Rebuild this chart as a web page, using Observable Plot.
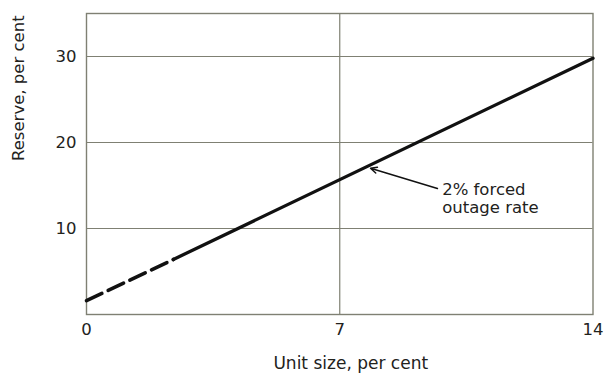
<!DOCTYPE html>
<html>
<head>
<meta charset="utf-8">
<script src="https://cdn.jsdelivr.net/npm/d3@7"></script>
<script src="https://cdn.jsdelivr.net/npm/@observablehq/plot@0.6"></script>
<style>
  html, body { margin: 0; padding: 0; background: #fff; }
</style>
</head>
<body>
<div id="chart"></div>
<script>
// Data
const xTicks = [0, 7, 14];
const yTicks = [10, 20, 30];
const xGrid = [7];
const dashedX = [0, 2.4];
const dashedY = [1.6, 6.4];
const solidX = [2.4, 14];
const solidY = [6.4, 29.8];
const noteText = "2% forced\noutage rate";
const noteX = [9.83];
const noteY = [13.5];
const arrowFrom = [9.7, 14.65];
const arrowTo = [7.85, 17.0];
const xLabel = "Unit size, per cent";
const yLabel = "Reserve, per cent";

const ink = "#22221c";
const gridColor = "#7f8073";

const dashed = dashedX.map((x, i) => ({x, y: dashedY[i]}));
const solid = solidX.map((x, i) => ({x, y: solidY[i]}));

const chart = Plot.plot({
  width: 609,
  height: 375,
  marginLeft: 86,
  marginRight: 16.5,
  marginTop: 13,
  marginBottom: 61,
  style: {fontFamily: "DejaVu Sans", fontSize: "16.5px", color: ink, background: "#fff"},
  x: {domain: [0, 14]},
  y: {domain: [0, 35]},
  marks: [
    Plot.gridX(xGrid, {stroke: gridColor, strokeOpacity: 1, strokeWidth: 1.2}),
    Plot.gridY(yTicks, {stroke: gridColor, strokeOpacity: 1, strokeWidth: 1.2}),
    Plot.frame({stroke: gridColor, strokeWidth: 1.4}),
    Plot.axisX(xTicks, {tickSize: 0, tickPadding: 9, label: null, fill: ink}),
    Plot.axisY(yTicks, {tickSize: 0, tickPadding: 10, label: null, fill: ink}),
    Plot.line(dashed, {x: "x", y: "y", stroke: "#111", strokeWidth: 3.6, strokeDasharray: "17 7"}),
    Plot.line(solid, {x: "x", y: "y", stroke: "#111", strokeWidth: 3.3}),
    Plot.arrow([{x1: arrowFrom[0], y1: arrowFrom[1], x2: arrowTo[0], y2: arrowTo[1]}],
      {x1: "x1", y1: "y1", x2: "x2", y2: "y2", stroke: "#111", strokeWidth: 1.5, headLength: 7, headAngle: 50, inset: 0}),
    Plot.text([noteText], {x: noteX, y: noteY, text: d => d, textAnchor: "start", lineAnchor: "middle", lineHeight: 1.1, fontSize: 16.5, fill: ink}),
    Plot.text([xLabel], {frameAnchor: "bottom", lineAnchor: "middle", dy: 49, dx: 11, fontSize: 17, fill: ink}),
    Plot.text([yLabel], {frameAnchor: "left", lineAnchor: "middle", rotate: -90, dx: -67.5, dy: -3, fontSize: 16.5, fill: ink})
  ]
});
document.getElementById("chart").appendChild(chart);
</script>
</body>
</html>
